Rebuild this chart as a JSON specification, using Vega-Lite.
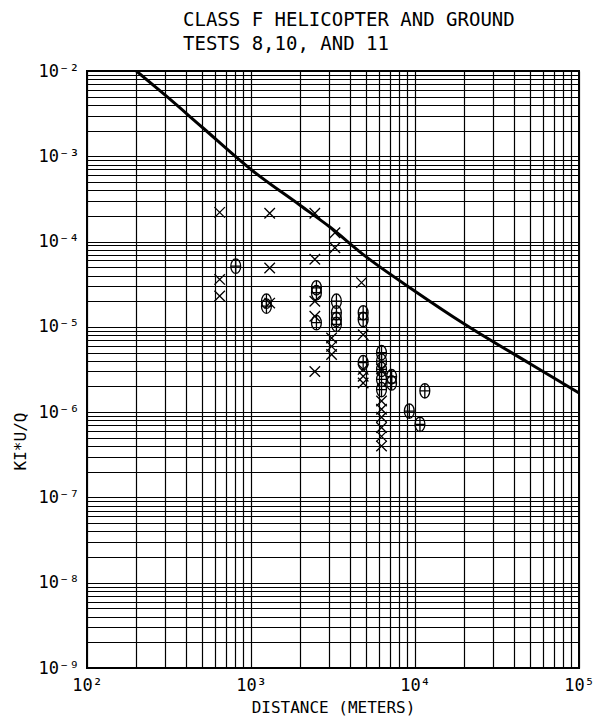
{
  "$schema": "https://vega.github.io/schema/vega-lite/v6.json",
  "width": 492,
  "height": 597,
  "autosize": {"type": "none"},
  "padding": {"left": 87, "top": 71, "right": 34, "bottom": 55},
  "background": "white",
  "title": {
    "text": ["CLASS F HELICOPTER AND GROUND", "TESTS 8,10, AND 11"],
    "anchor": "start",
    "frame": "group",
    "dx": 96,
    "font": "DejaVu Sans Mono",
    "fontSize": 19,
    "fontWeight": "normal",
    "color": "black",
    "lineHeight": 24,
    "offset": 8
  },
  "config": {
    "view": {"stroke": "black", "strokeWidth": 2}
  },
  "datasets": {
    "curve": [
      {"d": 200, "v": 0.0100},
      {"d": 300, "v": 0.0052},
      {"d": 500, "v": 0.00222},
      {"d": 1000, "v": 0.00070},
      {"d": 2000, "v": 0.000265},
      {"d": 3000, "v": 0.000150},
      {"d": 5000, "v": 0.000067},
      {"d": 10000, "v": 0.0000262},
      {"d": 20000, "v": 0.0000108},
      {"d": 50000, "v": 0.00000372},
      {"d": 100000, "v": 0.00000168}
    ],
    "obs": [
      {"t": "X", "d": 644, "v": 2.2e-4},
      {"t": "X", "d": 1300, "v": 2.15e-4},
      {"t": "X", "d": 2450, "v": 2.15e-4},
      {"t": "X", "d": 3250, "v": 1.27e-4},
      {"t": "X", "d": 3250, "v": 8.45e-5},
      {"t": "X", "d": 2450, "v": 6.2e-5},
      {"t": "X", "d": 1300, "v": 4.9e-5},
      {"t": "X", "d": 644, "v": 3.6e-5},
      {"t": "X", "d": 644, "v": 2.3e-5},
      {"t": "X", "d": 1300, "v": 1.9e-5},
      {"t": "X", "d": 4720, "v": 3.3e-5},
      {"t": "X", "d": 2450, "v": 2.0e-5},
      {"t": "X", "d": 2450, "v": 1.33e-5},
      {"t": "X", "d": 3100, "v": 7.4e-6},
      {"t": "X", "d": 3100, "v": 5.9e-6},
      {"t": "X", "d": 3100, "v": 4.75e-6},
      {"t": "X", "d": 4830, "v": 8.1e-6},
      {"t": "X", "d": 2450, "v": 3.0e-6},
      {"t": "X", "d": 4830, "v": 3.17e-6},
      {"t": "X", "d": 4830, "v": 2.64e-6},
      {"t": "X", "d": 4830, "v": 2.2e-6},
      {"t": "X", "d": 6250, "v": 3.2e-6},
      {"t": "X", "d": 6250, "v": 1.35e-6},
      {"t": "X", "d": 6250, "v": 1.08e-6},
      {"t": "X", "d": 6250, "v": 8.7e-7},
      {"t": "X", "d": 6250, "v": 6.6e-7},
      {"t": "X", "d": 6250, "v": 5.2e-7},
      {"t": "X", "d": 6250, "v": 4.0e-7},
      {"t": "O", "d": 807, "v": 5.15e-5},
      {"t": "O", "d": 1242, "v": 2.0e-5},
      {"t": "O", "d": 1242, "v": 1.75e-5},
      {"t": "O", "d": 2506, "v": 2.87e-5},
      {"t": "O", "d": 2506, "v": 2.51e-5},
      {"t": "O", "d": 2506, "v": 1.12e-5},
      {"t": "O", "d": 3318, "v": 2.0e-5},
      {"t": "O", "d": 3318, "v": 1.46e-5},
      {"t": "O", "d": 3318, "v": 1.22e-5},
      {"t": "O", "d": 3318, "v": 1.07e-5},
      {"t": "O", "d": 4830, "v": 1.46e-5},
      {"t": "O", "d": 4830, "v": 1.22e-5},
      {"t": "O", "d": 4830, "v": 3.8e-6},
      {"t": "O", "d": 6250, "v": 4.97e-6},
      {"t": "O", "d": 6250, "v": 3.96e-6},
      {"t": "O", "d": 6250, "v": 3.17e-6},
      {"t": "O", "d": 6250, "v": 2.42e-6},
      {"t": "O", "d": 6250, "v": 1.84e-6},
      {"t": "O", "d": 7200, "v": 2.6e-6},
      {"t": "O", "d": 7200, "v": 2.2e-6},
      {"t": "O", "d": 11480, "v": 1.78e-6},
      {"t": "O", "d": 9230, "v": 1.03e-6},
      {"t": "O", "d": 10720, "v": 7.2e-7}
    ]
  },
  "encoding": {
    "x": {
      "field": "d",
      "type": "quantitative",
      "scale": {"type": "log", "domain": [100, 100000], "nice": false},
      "axis": {
        "values": [100, 200, 300, 400, 500, 600, 700, 800, 900, 1000, 2000, 3000, 4000, 5000, 6000, 7000, 8000, 9000, 10000, 20000, 30000, 40000, 50000, 60000, 70000, 80000, 90000, 100000],
        "grid": true,
        "gridColor": "black",
        "gridOpacity": 1,
        "gridWidth": 1.2,
        "ticks": false,
        "domain": false,
        "labelExpr": "abs(log(datum.value)/LN10 - round(log(datum.value)/LN10)) < 0.001 ? '10' + (round(log(datum.value)/LN10) < 0 ? '⁻' : '') + ['⁰','¹','²','³','⁴','⁵','⁶','⁷','⁸','⁹'][abs(round(log(datum.value)/LN10))] : ''",
        "labelFont": "DejaVu Sans Mono",
        "labelFontSize": 17,
        "labelColor": "black",
        "labelPadding": 9,
        "labelFlush": false,
        "labelOverlap": false,
        "title": "DISTANCE (METERS)",
        "titleFont": "DejaVu Sans Mono",
        "titleFontSize": 16,
        "titleFontWeight": "normal",
        "titleColor": "black",
        "titlePadding": 6
      }
    },
    "y": {
      "field": "v",
      "type": "quantitative",
      "scale": {"type": "log", "domain": [1e-9, 1e-2], "nice": false},
      "axis": {
        "values": [1e-9, 2e-9, 3e-9, 4e-9, 5e-9, 6e-9, 7e-9, 8e-9, 9e-9, 1e-8, 2e-8, 3e-8, 4e-8, 5e-8, 6e-8, 7e-8, 8e-8, 9e-8, 1e-7, 2e-7, 3e-7, 4e-7, 5e-7, 6e-7, 7e-7, 8e-7, 9e-7, 1e-6, 2e-6, 3e-6, 4e-6, 5e-6, 6e-6, 7e-6, 8e-6, 9e-6, 1e-5, 2e-5, 3e-5, 4e-5, 5e-5, 6e-5, 7e-5, 8e-5, 9e-5, 1e-4, 2e-4, 3e-4, 4e-4, 5e-4, 6e-4, 7e-4, 8e-4, 9e-4, 1e-3, 2e-3, 3e-3, 4e-3, 5e-3, 6e-3, 7e-3, 8e-3, 9e-3, 1e-2],
        "grid": true,
        "gridColor": "black",
        "gridOpacity": 1,
        "gridWidth": 1,
        "ticks": false,
        "domain": false,
        "labelExpr": "abs(log(datum.value)/LN10 - round(log(datum.value)/LN10)) < 0.001 ? '10' + (round(log(datum.value)/LN10) < 0 ? '⁻' : '') + ['⁰','¹','²','³','⁴','⁵','⁶','⁷','⁸','⁹'][abs(round(log(datum.value)/LN10))] : ''",
        "labelFont": "DejaVu Sans Mono",
        "labelFontSize": 17,
        "labelColor": "black",
        "labelPadding": 8,
        "labelFlush": false,
        "labelOverlap": false,
        "title": "KI*U/Q",
        "titleFont": "DejaVu Sans Mono",
        "titleFontSize": 16,
        "titleFontWeight": "normal",
        "titleColor": "black",
        "titlePadding": 10,
        "titleY": 370
      }
    }
  },
  "layer": [
    {
      "data": {"name": "curve"},
      "mark": {"type": "line", "color": "black", "strokeWidth": 3, "interpolate": "monotone", "clip": true}
    },
    {
      "data": {"name": "obs"},
      "transform": [{"filter": "datum.t === 'X'"}],
      "mark": {"type": "point", "shape": "M-1,-1L1,1M-1,1L1,-1", "filled": false, "stroke": "black", "strokeWidth": 1.3, "size": 110, "opacity": 1}
    },
    {
      "data": {"name": "obs"},
      "transform": [{"filter": "datum.t === 'O'"}],
      "mark": {"type": "point", "shape": "M0,-1A0.68,1,0,1,1,0,1A0.68,1,0,1,1,0,-1ZM-0.68,0L0.68,0M0,-1L0,1", "filled": false, "stroke": "black", "strokeWidth": 1.3, "size": 210, "opacity": 1}
    }
  ]
}
